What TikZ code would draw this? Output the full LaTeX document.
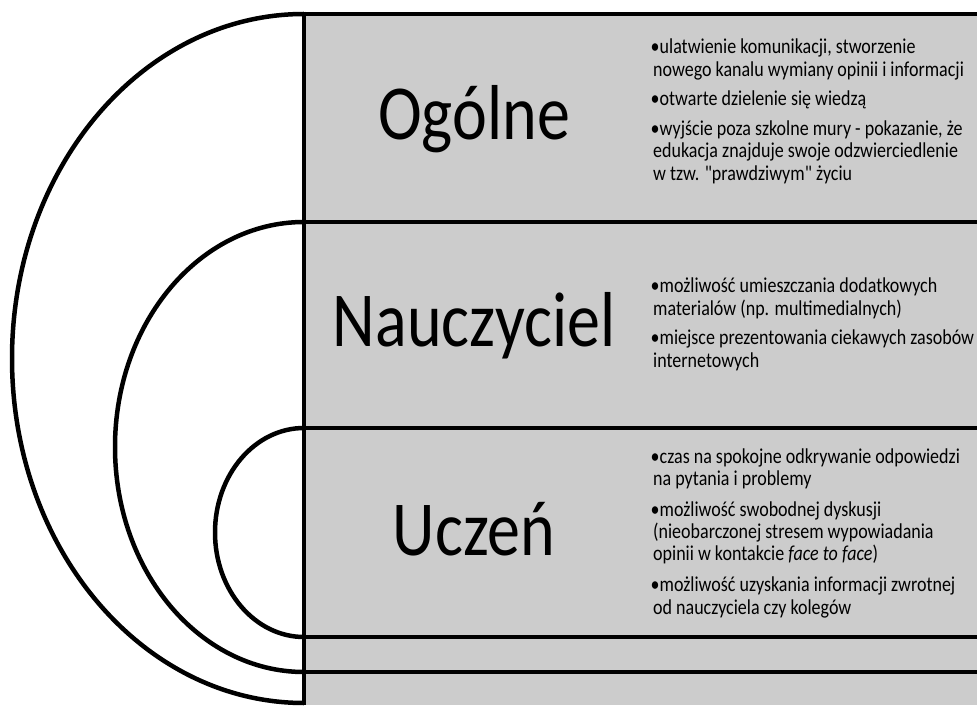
\documentclass[tikz,border=0pt]{standalone}
\usepackage{fontspec}
\setmainfont{Carlito}[Ligatures=TeXOff]
\newcommand{\bul}{\makebox[7.5pt][l]{\hspace*{-1.5pt}\textbullet}}
\newcommand{\cont}{\hspace*{1pt}}
\begin{document}
\begin{tikzpicture}[x=1pt,y=1pt,
  frame/.style={line width=4.5pt, draw=black},
  head/.style={anchor=base, inner sep=0pt, font=\fontsize{66}{70}\selectfont},
  body/.style={anchor=base west, inner sep=0pt}]
\useasboundingbox (0,0) rectangle (977,705);
% grey panel
\fill[fill={rgb,255:red,204;green,204;blue,204}] (304,0) rectangle (977,691);
% named corner points
\coordinate (o1) at (304,691);
\coordinate (o2) at (304,483);
\coordinate (o3) at (304,277);
\coordinate (r1) at (977,691);
\coordinate (r2) at (977,483);
\coordinate (r3) at (977,277);
\coordinate (l4) at (301.75,68);
\coordinate (r4) at (977,68);
\coordinate (l5) at (301.75,33);
\coordinate (r5) at (977,33);
\coordinate (vt) at (304,693.25);
\coordinate (vb) at (304,0);
% half ellipses
\draw[frame] (o1) arc[start angle=90,end angle=270,x radius=292,y radius=344.5];
\draw[frame] (o2) arc[start angle=90,end angle=270,x radius=189,y radius=225];
\draw[frame] (o3) arc[start angle=90,end angle=270,x radius=89,y radius=104.5];
% lines
\draw[frame] (vt) -- (vb);
\draw[frame] ([xshift=-2.25pt]o1) -- (r1);
\draw[frame] ([xshift=-2.25pt]o2) -- (r2);
\draw[frame] ([xshift=-2.25pt]o3) -- (r3);
\draw[frame] (l4) -- (r4);
\draw[frame] (l5) -- (r5);
% headings
\node[head] (h1) at (474,565) {\scalebox{1}[1.18]{Ogólne}};
\node[head] (h2) at (474,358) {\scalebox{1}[1.18]{Nauczyciel}};
\node[head] (h3) at (474,150) {\scalebox{1}[1.18]{Uczeń}};
% bullet texts
\node[body] (t1) at (652,651) {\scalebox{1}[1.18]{\fontsize{18}{19}\selectfont\begin{tabular}[t]{@{}l@{}}
\bul ulatwienie komunikacji, stworzenie\\
\cont nowego kanalu wymiany opinii i informacji\\[6pt]
\bul otwarte dzielenie się wiedzą\\[6pt]
\bul wyjście poza szkolne mury - pokazanie, że\\
\cont edukacja znajduje swoje odzwierciedlenie\\
\cont w tzw. "prawdziwym" życiu
\end{tabular}}};
\node[body] (t2) at (652,412) {\scalebox{1}[1.18]{\fontsize{18}{19}\selectfont\begin{tabular}[t]{@{}l@{}}
\bul możliwość umieszczania dodatkowych\\
\cont materialów (np. multimedialnych)\\[6pt]
\bul miejsce prezentowania ciekawych zasobów\\
\cont internetowych
\end{tabular}}};
\node[body] (t3) at (652,242) {\scalebox{1}[1.18]{\fontsize{18}{19}\selectfont\begin{tabular}[t]{@{}l@{}}
\bul czas na spokojne odkrywanie odpowiedzi\\
\cont na pytania i problemy\\[7pt]
\bul możliwość swobodnej dyskusji\\
\cont (nieobarczonej stresem wypowiadania\\
\cont opinii w kontakcie \textit{face to face})\\[7pt]
\bul możliwość uzyskania informacji zwrotnej\\
\cont od nauczyciela czy kolegów
\end{tabular}}};
\end{tikzpicture}
\end{document}
